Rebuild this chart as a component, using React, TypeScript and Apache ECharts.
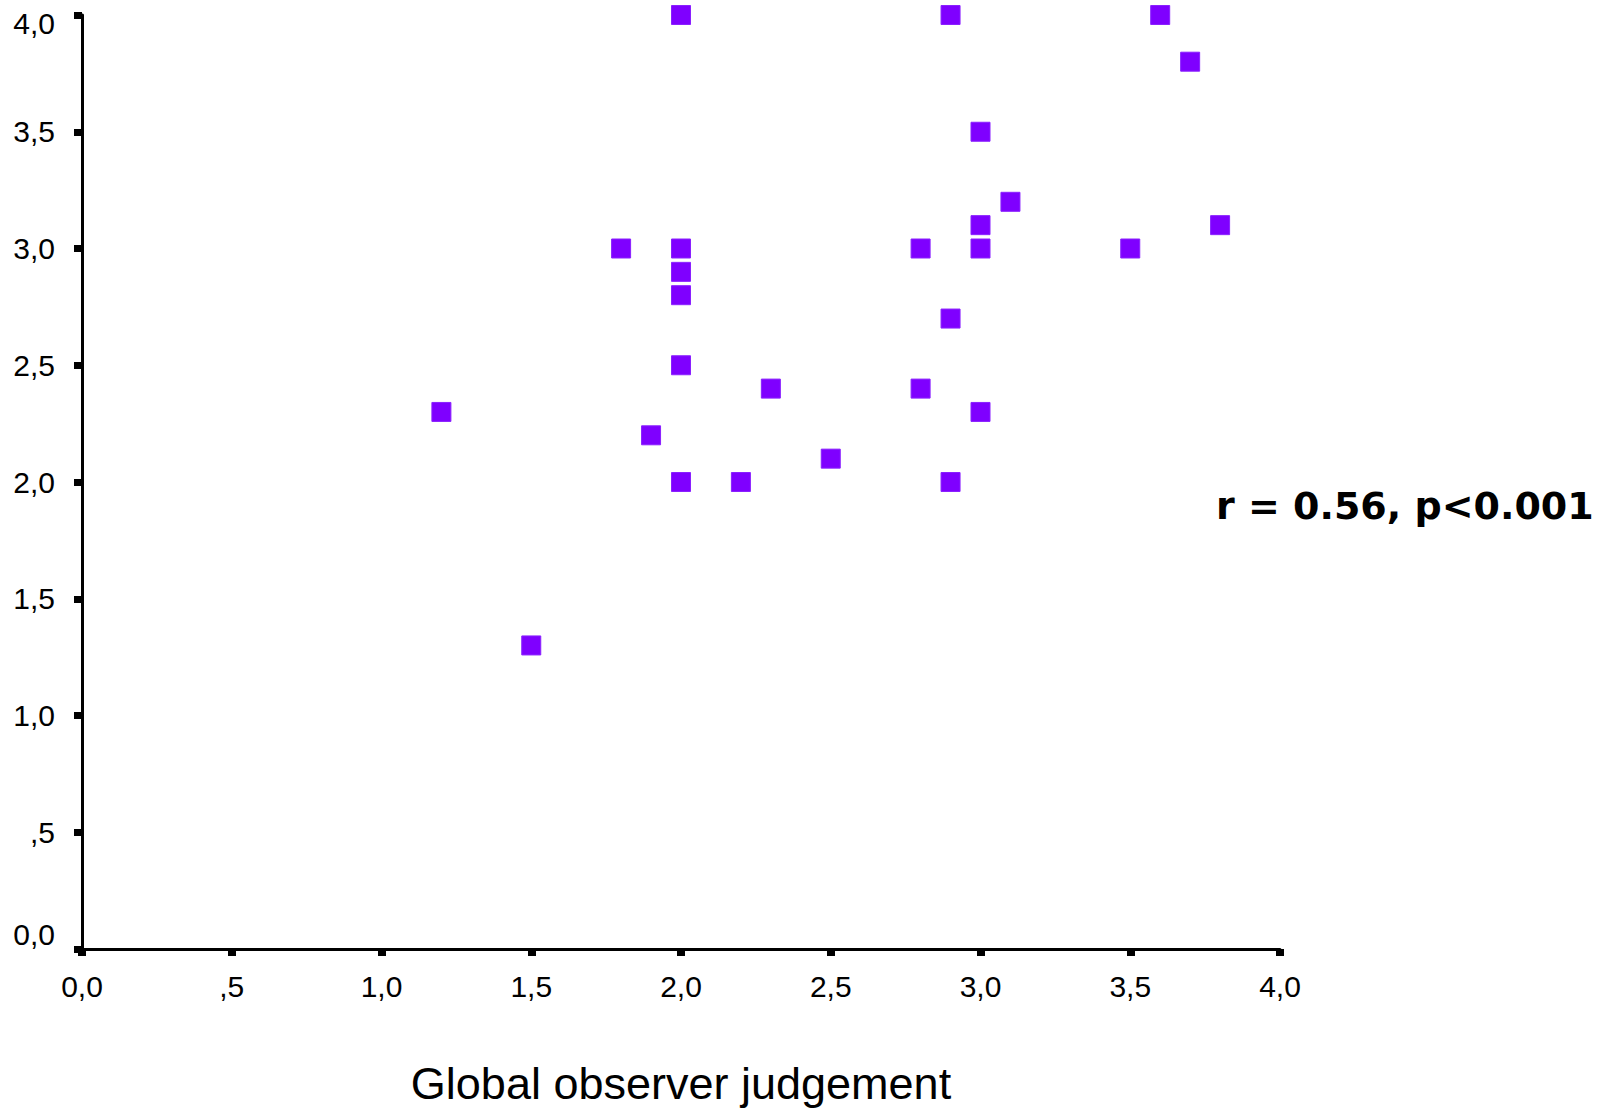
import React, { useEffect, useRef } from "react";
import * as echarts from "echarts";

const xValues = [2.0, 2.9, 3.6, 3.7, 3.0, 3.1, 3.0, 3.8, 1.8, 2.0, 2.8, 3.0, 3.5, 2.0, 2.0, 2.9, 2.0, 2.3, 2.8, 1.2, 3.0, 1.9, 2.5, 2.0, 2.2, 2.9, 1.5];
const yValues = [4.0, 4.0, 4.0, 3.8, 3.5, 3.2, 3.1, 3.1, 3.0, 3.0, 3.0, 3.0, 3.0, 2.9, 2.8, 2.7, 2.5, 2.4, 2.4, 2.3, 2.3, 2.2, 2.1, 2.0, 2.0, 2.0, 1.3];
const tickLabels = ["0,0", ",5", "1,0", "1,5", "2,0", "2,5", "3,0", "3,5", "4,0"];
const xAxisName = "Global observer judgement";
const annotation = "r = 0.56, p<0.001";

export default function App() {
  const ref = useRef<HTMLDivElement>(null);
  useEffect(() => {
    document.body.style.margin = "0";
    const chart = echarts.init(ref.current!, null, { renderer: "svg" });
    const data = xValues.map((x, i) => [x, yValues[i]]);
    const labelFont = { fontFamily: "Liberation Sans, Arial, sans-serif", fontSize: 30, color: "#000" };
    chart.setOption({
      animation: false,
      backgroundColor: "#fff",
      grid: { left: 82, top: 15, right: 326, bottom: 162 },
      xAxis: {
        type: "value",
        min: 0,
        max: 4,
        interval: 0.5,
        splitLine: { show: false },
        axisLine: { show: true, lineStyle: { color: "#000", width: 3 } },
        axisTick: { show: true, length: 7, lineStyle: { color: "#000", width: 8 } },
        axisLabel: {
          ...labelFont,
          margin: 22,
          formatter: (v: number) => tickLabels[Math.round(v / 0.5)],
        },
        name: xAxisName,
        nameLocation: "middle",
        nameGap: 112,
        nameTextStyle: { fontFamily: "Liberation Sans, Arial, sans-serif", fontSize: 45, color: "#000" },
      },
      yAxis: {
        type: "value",
        min: 0,
        max: 4,
        interval: 0.5,
        splitLine: { show: false },
        axisLine: { show: true, lineStyle: { color: "#000", width: 3 } },
        axisTick: { show: true, length: 8, lineStyle: { color: "#000", width: 7 } },
        axisLabel: {
          ...labelFont,
          margin: 27,
          formatter: (v: number) => {
            const idx = Math.round(v / 0.5);
            const t = tickLabels[idx];
            if (idx === 0) return "{lo|" + t + "}";
            if (idx === 8) return "{hi|" + t + "}";
            return t;
          },
          rich: {
            lo: { ...labelFont, padding: [0, 0, 30, 0] },
            hi: { ...labelFont, padding: [16, 0, 0, 0] },
          },
        },
      },
      series: [
        {
          type: "scatter",
          data,
          symbol: "rect",
          symbolSize: 19,
          itemStyle: { color: "#7f00ff", borderColor: "#8a20ff", borderWidth: 1, opacity: 1 },
          emphasis: { disabled: true },
        },
      ],
      graphic: [
        {
          type: "text",
          left: 1216,
          top: 487,
          style: {
            text: annotation,
            font: "bold 38px 'DejaVu Sans', Verdana, sans-serif",
            fill: "#000",
          },
        },
      ],
    });
    return () => chart.dispose();
  }, []);
  return <div ref={ref} style={{ width: 1606, height: 1111 }} />;
}
